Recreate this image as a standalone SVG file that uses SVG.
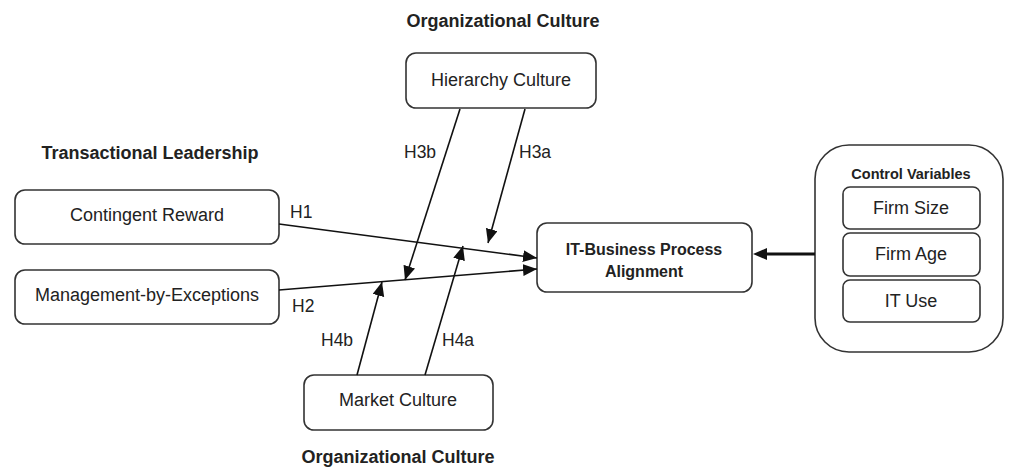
<svg xmlns="http://www.w3.org/2000/svg" width="1013" height="468" viewBox="0 0 1013 468">
<style>
.box{fill:#fff;stroke:#333;stroke-width:1.6}
.t{font-family:"Liberation Sans",Arial,sans-serif;font-size:18px;fill:#222;text-anchor:middle}
.b{font-family:"Liberation Sans",Arial,sans-serif;font-weight:bold;fill:#222;text-anchor:middle}
.lbl{font-family:"Liberation Sans",Arial,sans-serif;font-size:17.5px;fill:#222}
.c{stroke:#111;stroke-width:1.6;fill:none;marker-end:url(#ah)}
</style>
<defs>
<marker id="ah" markerUnits="userSpaceOnUse" markerWidth="15" markerHeight="13" refX="14" refY="6" orient="auto">
<path d="M0,0 L14,6 L0,12 z" fill="#111"/>
</marker>
</defs>
<rect width="1013" height="468" fill="#fff"/>
<text class="b" x="503" y="27" font-size="18">Organizational Culture</text>
<text class="b" x="150" y="159" font-size="18">Transactional Leadership</text>
<text class="b" x="398" y="463" font-size="18">Organizational Culture</text>
<g id="hierarchy"><rect class="box" x="406" y="53" width="190" height="55" rx="10"/><text class="t" x="501" y="86">Hierarchy Culture</text></g>
<g id="contingent"><rect class="box" x="15" y="190" width="264" height="54" rx="10"/><text class="t" x="147" y="221">Contingent Reward</text></g>
<g id="mbe"><rect class="box" x="15" y="270" width="264" height="54" rx="10"/><text class="t" x="147" y="301">Management-by-Exceptions</text></g>
<g id="itbpa"><rect class="box" x="537" y="223" width="215" height="69" rx="10"/><text class="b" font-size="16" x="644" y="255">IT-Business Process</text><text class="b" font-size="16" x="644" y="277">Alignment</text></g>
<g id="market"><rect class="box" x="304" y="375" width="189" height="55" rx="10"/><text class="t" x="398" y="406">Market Culture</text></g>
<g id="control"><rect class="box" x="815" y="145" width="188" height="207" rx="34"/><text class="b" font-size="14.5" x="911" y="179">Control Variables</text>
<rect class="box" x="843" y="187" width="137" height="42" rx="7"/><text class="t" font-size="16.5" x="911" y="214">Firm Size</text>
<rect class="box" x="843" y="233" width="137" height="43" rx="7"/><text class="t" font-size="16.5" x="911" y="260">Firm Age</text>
<rect class="box" x="843" y="280" width="137" height="42" rx="7"/><text class="t" font-size="16.5" x="911" y="307">IT Use</text></g>
<g id="connectors">
<line class="c" x1="279" y1="224" x2="537" y2="258"/>
<line class="c" x1="279" y1="290" x2="537" y2="269"/>
<line class="c" x1="460" y1="109" x2="405" y2="280"/>
<line class="c" x1="525" y1="109" x2="488" y2="243"/>
<line class="c" x1="357" y1="375" x2="382" y2="282"/>
<line class="c" x1="425" y1="375" x2="463" y2="246"/>
<line x1="815" y1="254" x2="760" y2="254" stroke="#111" stroke-width="3"/>
<path d="M753,254 L767,248 L767,260 z" fill="#111"/>
</g>
<g id="labels">
<text class="lbl" x="290" y="218">H1</text>
<text class="lbl" x="292" y="312">H2</text>
<text class="lbl" x="404" y="158">H3b</text>
<text class="lbl" x="519" y="158">H3a</text>
<text class="lbl" x="321" y="346">H4b</text>
<text class="lbl" x="442" y="346">H4a</text>
</g>
</svg>
